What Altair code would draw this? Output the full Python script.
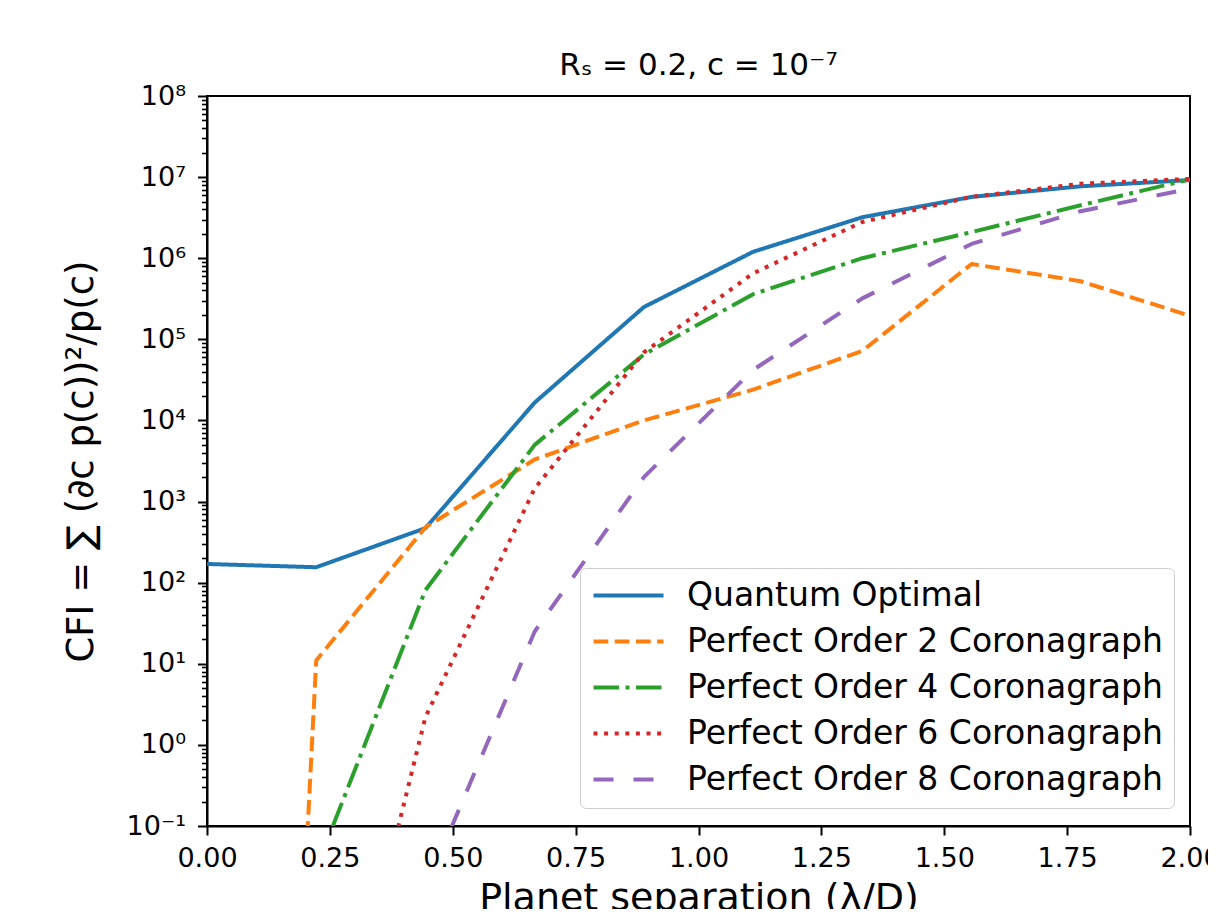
import altair as alt
import pandas as pd

# ---- data ----
x_sep = [0.0, 0.2222, 0.4444, 0.6667, 0.8889, 1.1111, 1.3333, 1.5556, 1.7778, 2.0]
quantum = [170, 155, 470, 1.66e4, 2.5e5, 1.2e6, 3.2e6, 5.7e6, 7.7e6, 9.2e6]
order2 = [4e-26, 11, 480, 3300, 1.0e4, 2.4e4, 7.2e4, 8.5e5, 5.2e5, 1.95e5]
order4 = [1e-6, 0.03, 81, 5000, 6.5e4, 3.6e5, 1.0e6, 2.1e6, 4.5e6, 9.4e6]
order6 = [1e-12, 8e-6, 2.2, 1450, 6.9e4, 6.5e5, 2.8e6, 5.7e6, 8.3e6, 9.5e6]
order8 = [1e-18, 1e-9, 0.017, 25, 2000, 4.2e4, 3.2e5, 1.5e6, 3.8e6, 7.2e6]

series_names = [
    "Quantum Optimal",
    "Perfect Order 2 Coronagraph",
    "Perfect Order 4 Coronagraph",
    "Perfect Order 6 Coronagraph",
    "Perfect Order 8 Coronagraph",
]
series_values = [quantum, order2, order4, order6, order8]
colors = ["#1f77b4", "#ff7f0e", "#2ca02c", "#d62728", "#9467bd"]
dashes = [[1, 0], [14.8, 6.4], [25.6, 6.4, 4, 6.4], [4, 6.6], [20, 20]]

x_ticks = [0.0, 0.25, 0.5, 0.75, 1.0, 1.25, 1.5, 1.75, 2.0]
y_exponents = list(range(-1, 9))
y_major = [10.0 ** k for k in y_exponents]
y_minor = [m * 10.0 ** k for k in range(-1, 8) for m in range(2, 10)]

sup = str.maketrans("0123456789-", "⁰¹²³⁴⁵⁶⁷⁸⁹⁻")
label_expr = ""
for k, v in zip(y_exponents, y_major):
    label_expr += f"datum.value === {v!r} ? '10{str(k).translate(sup)}' : "
label_expr += "''"
major_list = "[" + ",".join(repr(v) for v in y_major) + "]"
is_major = f"indexof({major_list}, datum.value) >= 0"

rows = []
for name, vals in zip(series_names, series_values):
    for xv, yv in zip(x_sep, vals):
        rows.append({"series": name, "x": xv, "y": yv})
df = pd.DataFrame(rows)

FONT = "DejaVu Sans"

legend_kw = dict(
    title=None,
    orient="none",
    legendX=373,
    legendY=472,
    labelFontSize=33,
    labelFont=FONT,
    labelColor="black",
    labelLimit=1000,
    labelOffset=63,
    symbolType="M-1,0H4",
    symbolSize=784,
    symbolStrokeWidth=4,
    rowPadding=12,
    padding=11,
    strokeColor="#cccccc",
    fillColor="rgba(255,255,255,0.8)",
    cornerRadius=6,
)

base = alt.Chart(df).mark_line(clip=True, strokeWidth=4, strokeCap="butt", strokeJoin="round").encode(
    x=alt.X(
        "x:Q",
        scale=alt.Scale(domain=[0, 2], nice=False),
        axis=alt.Axis(
            values=x_ticks,
            format=".2f",
            title="Planet separation (λ/D)",
            titleFontSize=38,
            titlePadding=8,
            labelFontSize=27,
            labelPadding=10,
            labelFlush=False,
            tickSize=9,
            tickWidth=2,
        ),
    ),
    y=alt.Y(
        "y:Q",
        scale=alt.Scale(type="log", domain=[0.1, 1e8], nice=False),
        axis=alt.Axis(
            values=y_major + y_minor,
            labelExpr=label_expr,
            labelOverlap=False,
            labelFlush=False,
            labelBound=False,
            title="CFI = ∑ (∂c p(c))²/p(c)",
            titleFontSize=37,
            titlePadding=26,
            labelFontSize=27,
            labelPadding=12,
            tickSize={"condition": {"test": is_major, "value": 9.5}, "value": 5.5},
            tickWidth={"condition": {"test": is_major, "value": 2}, "value": 1.6},
        ),
    ),
    color=alt.Color(
        "series:N",
        scale=alt.Scale(domain=series_names, range=colors),
        legend=alt.Legend(**legend_kw),
    ),
    strokeDash=alt.StrokeDash(
        "series:N",
        scale=alt.Scale(domain=series_names, range=dashes),
        legend=alt.Legend(**legend_kw),
    ),
)

layers = [base.transform_filter(alt.datum.series == s) for s in series_names]

chart = (
    alt.layer(*layers)
    .properties(
        width=983,
        height=730,
        background="white",
        autosize=alt.AutoSizeParams(type="none"),
        padding={"left": 199, "top": 88, "right": 18, "bottom": 83},
        title=alt.Title(
            "Rₛ = 0.2, c = 10⁻⁷",
            fontSize=31,
            font=FONT,
            fontWeight="normal",
            color="black",
            anchor="middle",
            frame="group",
            baseline="alphabetic",
            offset=-24,
        ),
    )
    .configure_view(stroke="black", strokeWidth=2)
    .configure_axis(
        grid=False,
        domainColor="black",
        domainWidth=2,
        tickColor="black",
        labelColor="black",
        titleColor="black",
        labelFont=FONT,
        titleFont=FONT,
        titleFontWeight="normal",
    )
)

chart.save("out.html", embed_options={"renderer": "svg", "actions": False})
